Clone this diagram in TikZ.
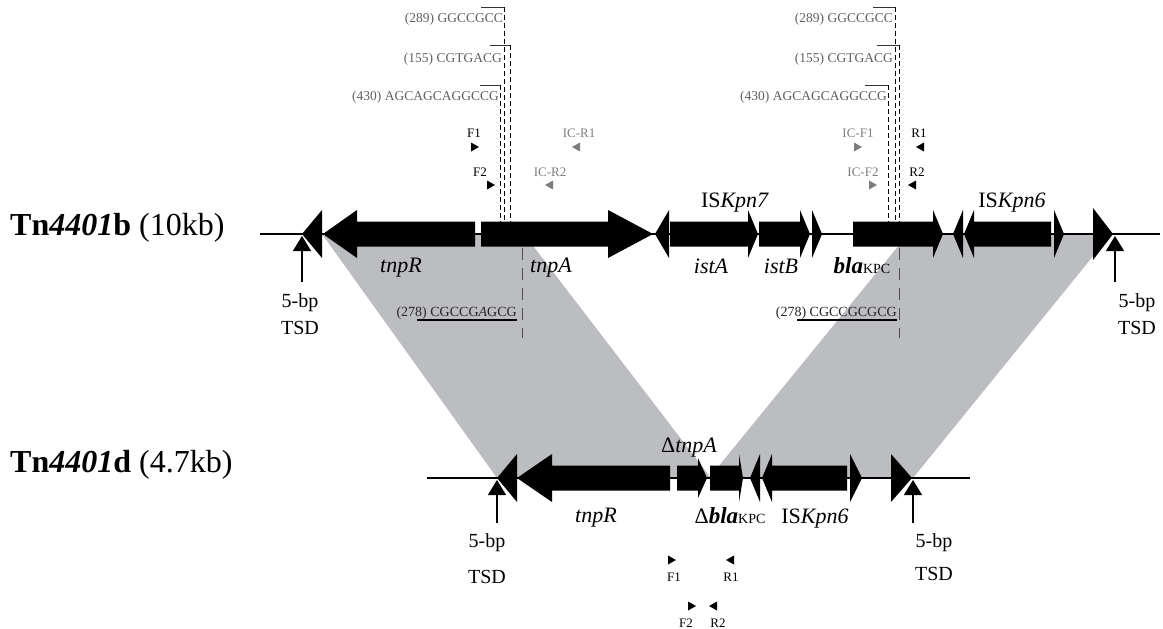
\documentclass[tikz,border=0pt]{standalone}
\usepackage{fontspec}
\setmainfont{Liberation Serif}
\usetikzlibrary{arrows.meta}
\definecolor{homgray}{RGB}{188,189,192}
\definecolor{seqgray}{RGB}{95,95,95}
\definecolor{primgray}{RGB}{125,125,125}
% gene arrow: body end, head base, tip, baseline
\newcommand\genearr[4]{\fill[black] (#1,#4-12.5) -- (#2,#4-12.5) -- (#2,#4-24) -- (#3,#4) -- (#2,#4+24) -- (#2,#4+12.5) -- (#1,#4+12.5) -- cycle;}
% triangle: base x, tip x, baseline, half height
\newcommand\gtri[4]{\fill[black] (#1,#3-#4) -- (#2,#3) -- (#1,#3+#4) -- cycle;}
% primer triangles
\newcommand\primR[3]{\fill[#3] (#1-4,#2-4.5) -- (#1+4,#2) -- (#1-4,#2+4.5) -- cycle;}
\newcommand\primL[3]{\fill[#3] (#1+4,#2-4.5) -- (#1-4,#2) -- (#1+4,#2+4.5) -- cycle;}
\tikzset{
  base/.style={line width=1.1pt, black},
  genelab/.style={inner sep=0pt, anchor=base, font=\fontsize{22}{24}\selectfont\itshape},
  islab/.style={inner sep=0pt, anchor=base, font=\fontsize{22}{24}\selectfont},
  tsdlab/.style={inner sep=0pt, anchor=base, font=\fontsize{20}{22}\selectfont},
  seqlab/.style={inner sep=0pt, anchor=base east, text=seqgray, font=\fontsize{13.5}{15}\selectfont},
  seqlab2/.style={inner sep=0pt, anchor=base east, text=black!85, font=\fontsize{14}{16}\selectfont},
  primlab/.style={inner sep=0pt, anchor=base, font=\fontsize{13}{15}\selectfont},
  titlelab/.style={inner sep=0pt, anchor=base west, font=\fontsize{32}{36}\selectfont},
  overl/.style={line width=0.8pt, black!80},
  cutline/.style={line width=0.7pt, black, dash pattern=on 5pt off 3pt},
  cutline2/.style={line width=0.9pt, black!70, dash pattern=on 12pt off 8pt},
  tsdarrow/.style={line width=1.2pt, -{Triangle[length=15pt,width=18pt]}},
}
\begin{document}
\begin{tikzpicture}[x=1pt,y=-1pt]
\useasboundingbox (0,0) rectangle (1163,629);
% gray homology regions
\fill[homgray] (322,234) -- (524,234) -- (711,478) -- (497,478) -- cycle;
\fill[homgray] (908,234) -- (1111,234) -- (913,478) -- (709,478) -- cycle;
% backbones
\draw[base] (260,234) -- (1160,234);
\draw[base] (427,478) -- (970,478);
% sequence brackets, top left
\draw[overl] (481,7) -- (504,7);
\draw[cutline] (504,7) -- (504,222);
\draw[overl] (490,45) -- (510,45);
\draw[cutline] (510,45) -- (510,222);
\draw[overl] (480,85) -- (500,85);
\draw[cutline] (500,85) -- (500,222);
% top right
\draw[overl] (873,7) -- (895,7);
\draw[cutline] (895,7) -- (895,222);
\draw[overl] (877,45) -- (899,45);
\draw[cutline] (899,45) -- (899,222);
\draw[overl] (865,85) -- (888,85);
\draw[cutline] (888,85) -- (888,222);
% lower cut lines
\draw[cutline2] (522,248) -- (522,338);
\draw[cutline2] (899,248) -- (899,338);
\draw[line width=2pt] (417,319.5) -- (517,319.5);
\draw[line width=2pt] (797,319.5) -- (897,319.5);
% top row elements
\gtri{322}{302}{234}{24}
\genearr{475}{357}{323}{234}
\genearr{481}{608}{653}{234}
\gtri{669}{655}{234}{24}
\genearr{670}{748}{758}{234}
\genearr{759}{800}{810}{234}
\gtri{812}{822}{234}{24}
\genearr{853}{933}{943}{234}
\gtri{963}{953}{234}{24}
\genearr{1051}{974}{964}{234}
\gtri{1054}{1064}{234}{24}
\gtri{1093}{1113}{234}{26}
% bottom row elements
\gtri{517}{497}{478}{24}
\genearr{670}{552}{517}{478}
\fill[black] (677,465.5) -- (698,465.5) -- (698,458) -- (707,478) -- (698,498) -- (698,490.5) -- (677,490.5) -- cycle;
\genearr{710}{739}{743}{478}
\gtri{760}{750}{478}{24}
\genearr{847}{772}{762}{478}
\gtri{850}{862}{478}{24}
\gtri{891}{912}{478}{24}
% TSD arrows
\coordinate (t1a) at (302,282); \coordinate (t1b) at (302,236);
\coordinate (t2a) at (1115,282); \coordinate (t2b) at (1115,236);
\coordinate (t3a) at (497,523); \coordinate (t3b) at (497,480);
\coordinate (t4a) at (913,523); \coordinate (t4b) at (913,480);
\draw[tsdarrow] (t1a) -- (t1b);
\draw[tsdarrow] (t2a) -- (t2b);
\draw[tsdarrow] (t3a) -- (t3b);
\draw[tsdarrow] (t4a) -- (t4b);
% titles
\node[titlelab] (title1) at (10,235) {\textbf{Tn\textit{4401}b} (10kb)};
\node[titlelab] (title2) at (10,472) {\textbf{Tn\textit{4401}d} (4.7kb)};
% TSD labels
\node[tsdlab] (tsd1a) at (300,307) {5-bp};
\node[tsdlab] (tsd1b) at (300,334) {TSD};
\node[tsdlab] (tsd2a) at (1137,307) {5-bp};
\node[tsdlab] (tsd2b) at (1137,334) {TSD};
\node[tsdlab] (tsd3a) at (487,547) {5-bp};
\node[tsdlab] (tsd3b) at (487,583) {TSD};
\node[tsdlab] (tsd4a) at (934,547) {5-bp};
\node[tsdlab] (tsd4b) at (934,580) {TSD};
% gene labels top
\node[genelab] (ltnpR) at (401,272) {tnpR};
\node[genelab] (ltnpA) at (551,272) {tnpA};
\node[genelab] (listA) at (711,273) {istA};
\node[genelab] (listB) at (781,273) {istB};
\node[inner sep=0pt, anchor=base] (lbla) at (862,273) {\fontsize{23}{25}\selectfont\bfseries\itshape bla\normalfont\fontsize{14}{16}\selectfont KPC};
\node[islab] (lis7) at (735,207) {IS\textit{Kpn7}};
\node[islab] (lis6) at (1012,207) {IS\textit{Kpn6}};
% gene labels bottom
\node[islab] (ldtnpA) at (689,452) {Δ\textit{tnpA}};
\node[genelab] (ltnpR2) at (596,522) {tnpR};
\node[inner sep=0pt, anchor=base] (ldbla) at (730,523) {\fontsize{22}{24}\selectfont Δ\fontsize{23}{25}\selectfont\bfseries\itshape bla\normalfont\fontsize{14}{16}\selectfont KPC};
\node[islab] (lis6b) at (815,523) {IS\textit{Kpn6}};
% sequence labels
\node[seqlab] (s1) at (503,22) {(289) GGCCGCC};
\node[seqlab] (s2) at (502,62) {(155) CGTGACG};
\node[seqlab] (s3) at (499,100) {(430) AGCAGCAGGCCG};
\node[seqlab] (s4) at (893,22) {(289) GGCCGCC};
\node[seqlab] (s5) at (893,62) {(155) CGTGACG};
\node[seqlab] (s6) at (887,100) {(430) AGCAGCAGGCCG};
\node[seqlab2] (s7) at (517,316) {(278) CGCCG\textit{A}GCG};
\node[seqlab2] (s8) at (897,316) {(278) CGCCGCGCG};
% primers top
\node[primlab] (pF1) at (474,137) {F1};
\node[primlab] (pF2) at (480,176) {F2};
\node[primlab, text=primgray] (pICR1) at (579,137) {IC-R1};
\node[primlab, text=primgray] (pICR2) at (550,176) {IC-R2};
\node[primlab, text=primgray] (pICF1) at (858,137) {IC-F1};
\node[primlab, text=primgray] (pICF2) at (863,176) {IC-F2};
\node[primlab] (pR1) at (919,137) {R1};
\node[primlab] (pR2) at (917,176) {R2};
\primR{475}{147}{black}
\primR{491}{185}{black}
\primL{576}{147}{primgray}
\primL{549}{185}{primgray}
\primR{858}{147}{primgray}
\primR{873}{185}{primgray}
\primL{920}{147}{black}
\primL{912}{185}{black}
% primers bottom
\node[primlab] (bF1) at (674,581) {F1};
\node[primlab] (bR1) at (731,581) {R1};
\node[primlab] (bF2) at (686,627) {F2};
\node[primlab] (bR2) at (718,627) {R2};
\primR{672}{560}{black}
\primL{730}{560}{black}
\primR{692}{606}{black}
\primL{713}{606}{black}
\end{tikzpicture}
\end{document}
